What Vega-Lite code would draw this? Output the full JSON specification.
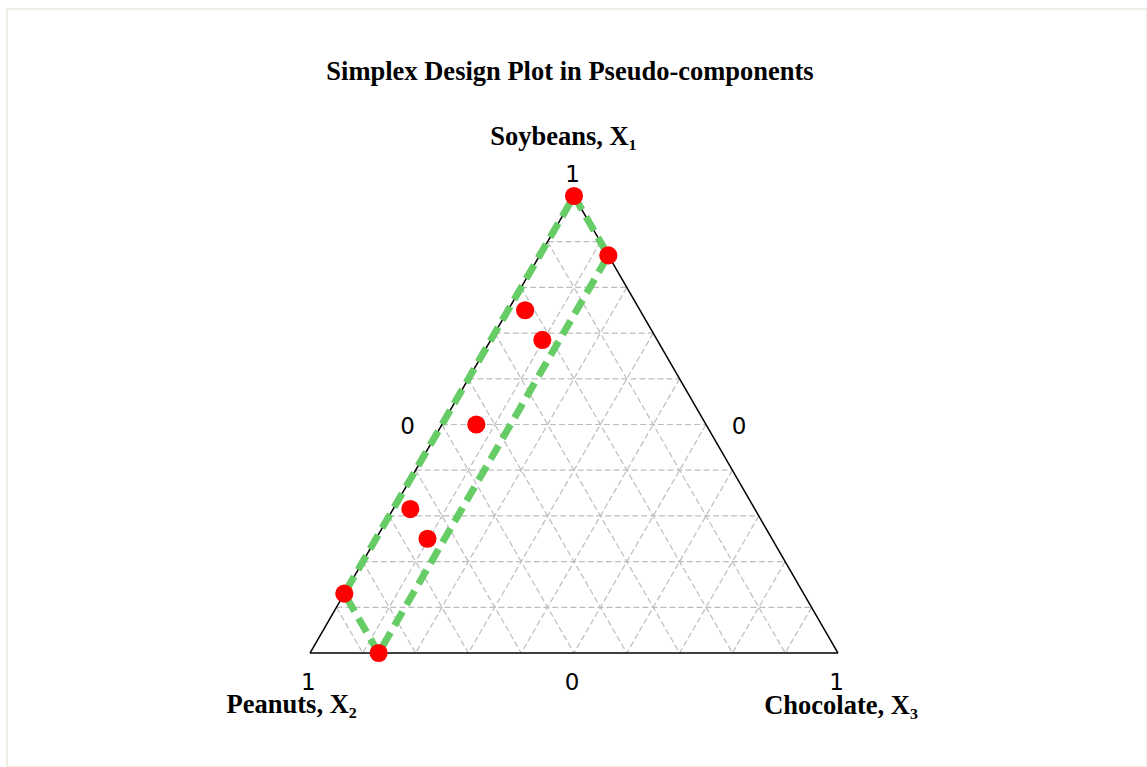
{
  "$schema": "https://vega.github.io/schema/vega-lite/v6.json",
  "width": 1140,
  "height": 758,
  "autosize": {"type": "none"},
  "padding": {"left": 7, "top": 9, "right": 0, "bottom": 0},
  "background": "white",
  "view": {"stroke": "#f0ede7", "strokeWidth": 2},
  "datasets": {
    "grid": [
      {"soy1": 0.1, "pea1": 0.9, "cho1": 0, "soy2": 0.1, "pea2": 0, "cho2": 0.9},
      {"soy1": 0.2, "pea1": 0.8, "cho1": 0, "soy2": 0.2, "pea2": 0, "cho2": 0.8},
      {"soy1": 0.3, "pea1": 0.7, "cho1": 0, "soy2": 0.3, "pea2": 0, "cho2": 0.7},
      {"soy1": 0.4, "pea1": 0.6, "cho1": 0, "soy2": 0.4, "pea2": 0, "cho2": 0.6},
      {"soy1": 0.5, "pea1": 0.5, "cho1": 0, "soy2": 0.5, "pea2": 0, "cho2": 0.5},
      {"soy1": 0.6, "pea1": 0.4, "cho1": 0, "soy2": 0.6, "pea2": 0, "cho2": 0.4},
      {"soy1": 0.7, "pea1": 0.3, "cho1": 0, "soy2": 0.7, "pea2": 0, "cho2": 0.3},
      {"soy1": 0.8, "pea1": 0.2, "cho1": 0, "soy2": 0.8, "pea2": 0, "cho2": 0.2},
      {"soy1": 0.9, "pea1": 0.1, "cho1": 0, "soy2": 0.9, "pea2": 0, "cho2": 0.1},
      {"soy1": 0.9, "pea1": 0.1, "cho1": 0, "soy2": 0, "pea2": 0.1, "cho2": 0.9},
      {"soy1": 0.8, "pea1": 0.2, "cho1": 0, "soy2": 0, "pea2": 0.2, "cho2": 0.8},
      {"soy1": 0.7, "pea1": 0.3, "cho1": 0, "soy2": 0, "pea2": 0.3, "cho2": 0.7},
      {"soy1": 0.6, "pea1": 0.4, "cho1": 0, "soy2": 0, "pea2": 0.4, "cho2": 0.6},
      {"soy1": 0.5, "pea1": 0.5, "cho1": 0, "soy2": 0, "pea2": 0.5, "cho2": 0.5},
      {"soy1": 0.4, "pea1": 0.6, "cho1": 0, "soy2": 0, "pea2": 0.6, "cho2": 0.4},
      {"soy1": 0.3, "pea1": 0.7, "cho1": 0, "soy2": 0, "pea2": 0.7, "cho2": 0.3},
      {"soy1": 0.2, "pea1": 0.8, "cho1": 0, "soy2": 0, "pea2": 0.8, "cho2": 0.2},
      {"soy1": 0.1, "pea1": 0.9, "cho1": 0, "soy2": 0, "pea2": 0.9, "cho2": 0.1},
      {"soy1": 0.9, "pea1": 0, "cho1": 0.1, "soy2": 0, "pea2": 0.9, "cho2": 0.1},
      {"soy1": 0.8, "pea1": 0, "cho1": 0.2, "soy2": 0, "pea2": 0.8, "cho2": 0.2},
      {"soy1": 0.7, "pea1": 0, "cho1": 0.3, "soy2": 0, "pea2": 0.7, "cho2": 0.3},
      {"soy1": 0.6, "pea1": 0, "cho1": 0.4, "soy2": 0, "pea2": 0.6, "cho2": 0.4},
      {"soy1": 0.5, "pea1": 0, "cho1": 0.5, "soy2": 0, "pea2": 0.5, "cho2": 0.5},
      {"soy1": 0.4, "pea1": 0, "cho1": 0.6, "soy2": 0, "pea2": 0.4, "cho2": 0.6},
      {"soy1": 0.3, "pea1": 0, "cho1": 0.7, "soy2": 0, "pea2": 0.3, "cho2": 0.7},
      {"soy1": 0.2, "pea1": 0, "cho1": 0.8, "soy2": 0, "pea2": 0.2, "cho2": 0.8},
      {"soy1": 0.1, "pea1": 0, "cho1": 0.9, "soy2": 0, "pea2": 0.1, "cho2": 0.9}
    ],
    "edges": [
      {"soy1": 1, "pea1": 0, "cho1": 0, "soy2": 0, "pea2": 1, "cho2": 0},
      {"soy1": 0, "pea1": 1, "cho1": 0, "soy2": 0, "pea2": 0, "cho2": 1},
      {"soy1": 0, "pea1": 0, "cho1": 1, "soy2": 1, "pea2": 0, "cho2": 0}
    ],
    "region": [
      {"order": 1, "soy": 1, "pea": 0, "cho": 0},
      {"order": 2, "soy": 0.87, "pea": 0, "cho": 0.13},
      {"order": 3, "soy": 0, "pea": 0.87, "cho": 0.13},
      {"order": 4, "soy": 0.13, "pea": 0.87, "cho": 0},
      {"order": 5, "soy": 1, "pea": 0, "cho": 0}
    ],
    "design": [
      {"run": 1, "soy": 1, "pea": 0, "cho": 0},
      {"run": 2, "soy": 0.87, "pea": 0, "cho": 0.13},
      {"run": 3, "soy": 0, "pea": 0.87, "cho": 0.13},
      {"run": 4, "soy": 0.13, "pea": 0.87, "cho": 0},
      {"run": 5, "soy": 0.5, "pea": 0.435, "cho": 0.065},
      {"run": 6, "soy": 0.75, "pea": 0.2175, "cho": 0.0325},
      {"run": 7, "soy": 0.685, "pea": 0.2175, "cho": 0.0975},
      {"run": 8, "soy": 0.25, "pea": 0.6525, "cho": 0.0975},
      {"run": 9, "soy": 0.315, "pea": 0.6525, "cho": 0.0325}
    ],
    "ticks": [
      {"label": "1", "x": 0.4975, "y": 1.0453},
      {"label": "0", "x": 0.185, "y": 0.4952},
      {"label": "0", "x": 0.8125, "y": 0.4952},
      {"label": "0", "x": 0.4962, "y": -0.0656},
      {"label": "1", "x": -0.0032, "y": -0.065},
      {"label": "1", "x": 0.9975, "y": -0.065}
    ],
    "axisTitles": [
      {"label": "Soybeans, X₁", "x": 0.4801, "y": 1.1291},
      {"label": "Peanuts, X₂", "x": -0.0347, "y": -0.1138},
      {"label": "Chocolate, X₃", "x": 1.0057, "y": -0.1149}
    ],
    "title": [
      {"label": "Simplex Design Plot in Pseudo-components", "x": 0.4924, "y": 1.2713}
    ]
  },
  "layer": [
    {
      "data": {"name": "grid"},
      "transform": [
        {"calculate": "datum.cho1 + datum.soy1 / 2", "as": "x"},
        {"calculate": "datum.soy1", "as": "y"},
        {"calculate": "datum.cho2 + datum.soy2 / 2", "as": "x2"},
        {"calculate": "datum.soy2", "as": "y2"}
      ],
      "mark": {"type": "rule", "color": "#bdbdbd", "strokeWidth": 1.2, "strokeDash": [6, 3]},
      "encoding": {
        "x": {"field": "x", "type": "quantitative", "scale": {"domain": [-0.57386, 1.58523], "nice": false, "zero": false}, "axis": null},
        "y": {"field": "y", "type": "quantitative", "scale": {"domain": [-0.24945, 1.40919], "nice": false, "zero": false}, "axis": null},
        "x2": {"field": "x2"},
        "y2": {"field": "y2"}
      }
    },
    {
      "data": {"name": "edges"},
      "transform": [
        {"calculate": "datum.cho1 + datum.soy1 / 2", "as": "x"},
        {"calculate": "datum.soy1", "as": "y"},
        {"calculate": "datum.cho2 + datum.soy2 / 2", "as": "x2"},
        {"calculate": "datum.soy2", "as": "y2"}
      ],
      "mark": {"type": "rule", "color": "black", "strokeWidth": 1.5},
      "encoding": {
        "x": {"field": "x", "type": "quantitative"},
        "y": {"field": "y", "type": "quantitative"},
        "x2": {"field": "x2"},
        "y2": {"field": "y2"}
      }
    },
    {
      "data": {"name": "region"},
      "transform": [
        {"calculate": "datum.cho + datum.soy / 2", "as": "x"},
        {"calculate": "datum.soy", "as": "y"}
      ],
      "mark": {"type": "line", "color": "#66cc66", "strokeWidth": 7, "strokeDash": [16, 8], "strokeCap": "butt"},
      "encoding": {
        "x": {"field": "x", "type": "quantitative"},
        "y": {"field": "y", "type": "quantitative"},
        "order": {"field": "order", "type": "quantitative"}
      }
    },
    {
      "data": {"name": "design"},
      "transform": [
        {"calculate": "datum.cho + datum.soy / 2", "as": "x"},
        {"calculate": "datum.soy", "as": "y"}
      ],
      "mark": {"type": "circle", "color": "#ff0000", "opacity": 1, "size": 330},
      "encoding": {
        "x": {"field": "x", "type": "quantitative"},
        "y": {"field": "y", "type": "quantitative"}
      }
    },
    {
      "data": {"name": "ticks"},
      "mark": {"type": "text", "font": "DejaVu Sans", "fontSize": 23, "color": "black", "align": "center", "baseline": "middle"},
      "encoding": {
        "x": {"field": "x", "type": "quantitative"},
        "y": {"field": "y", "type": "quantitative"},
        "text": {"field": "label"}
      }
    },
    {
      "data": {"name": "axisTitles"},
      "mark": {"type": "text", "font": "Liberation Serif", "fontWeight": "bold", "fontSize": 26.5, "color": "black", "align": "center", "baseline": "middle"},
      "encoding": {
        "x": {"field": "x", "type": "quantitative"},
        "y": {"field": "y", "type": "quantitative"},
        "text": {"field": "label"}
      }
    },
    {
      "data": {"name": "title"},
      "mark": {"type": "text", "font": "Liberation Serif", "fontWeight": "bold", "fontSize": 26.5, "color": "black", "align": "center", "baseline": "middle"},
      "encoding": {
        "x": {"field": "x", "type": "quantitative"},
        "y": {"field": "y", "type": "quantitative"},
        "text": {"field": "label"}
      }
    }
  ]
}
